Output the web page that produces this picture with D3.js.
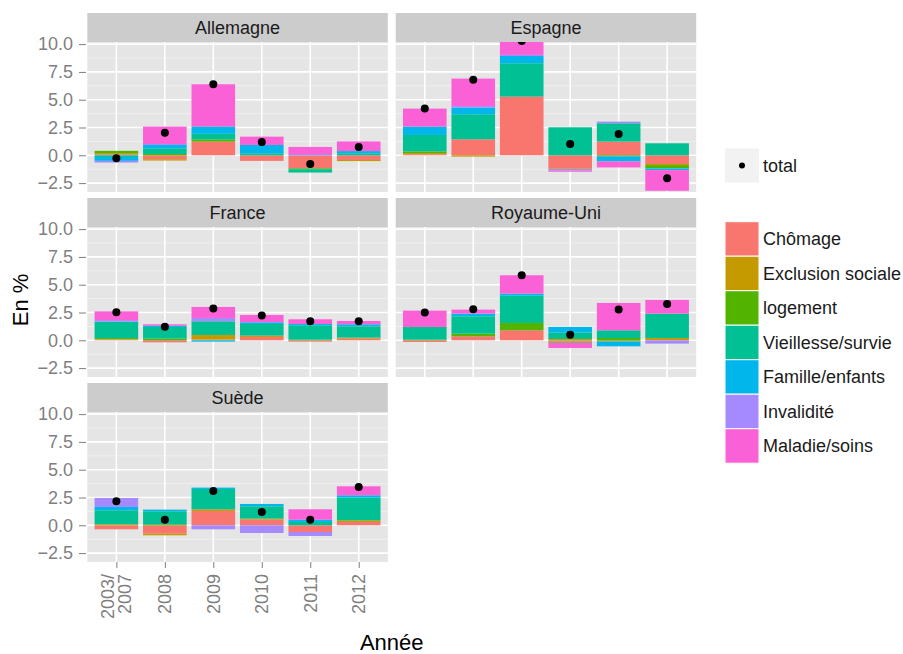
<!DOCTYPE html>
<html>
<head>
<meta charset="utf-8">
<script src="https://cdn.jsdelivr.net/npm/d3@7"></script>
<style>
  body { margin: 0; background: #ffffff; }
  text { font-family: "Liberation Sans", Arial, sans-serif; }
</style>
</head>
<body>
<script>
// facets, x categories and fill categories
const countries = ["Allemagne", "Espagne", "France", "Royaume-Uni", "Suède"];
const years = ["2003/2007", "2008", "2009", "2010", "2011", "2012"];
const yearLabels = [["2003/", "2007"], ["2008"], ["2009"], ["2010"], ["2011"], ["2012"]];
const categories = ["Chômage", "Exclusion sociale", "logement", "Vieillesse/survie",
  "Famille/enfants", "Invalidité", "Maladie/soins"];
const yTicks = [-2.5, 0, 2.5, 5, 7.5, 10];
const yMinor = [-1.25, 1.25, 3.75, 6.25, 8.75];

// contributions, one row per category, one value per year
const allemagne = [
  [0.10, -0.35, 1.23, -0.50, -1.17, -0.42],
  [0.10, -0.12, 0.00, 0.00, 0.00, -0.10],
  [0.20, 0.12, 0.20, 0.00, -0.08, 0.00],
  [-0.15, 0.51, 0.50, 0.18, -0.30, 0.18],
  [-0.35, 0.30, 0.66, 0.75, 0.00, 0.20],
  [-0.15, 0.09, 0.00, 0.00, 0.12, 0.00],
  [0.00, 1.56, 3.80, 0.75, 0.63, 0.87]
];
const espagne = [
  [0.10, 1.44, 5.28, -1.17, 1.23, -0.78],
  [0.10, -0.12, 0.00, -0.06, 0.00, -0.10],
  [0.15, 0.00, 0.00, 0.00, -0.10, -0.30],
  [1.48, 2.25, 3.00, 2.52, 1.65, 1.08],
  [0.75, 0.60, 0.65, 0.00, -0.45, -0.15],
  [0.00, 0.15, 0.10, -0.15, 0.15, 0.00],
  [1.62, 2.46, 1.25, -0.10, -0.54, -1.86]
];
const france = [
  [0.05, -0.18, 0.06, 0.30, -0.12, 0.15],
  [0.05, 0.00, 0.42, 0.12, 0.00, 0.09],
  [0.10, 0.15, 0.00, 0.00, 0.06, 0.00],
  [1.47, 1.05, 1.23, 1.05, 1.29, 1.02],
  [0.00, 0.12, -0.12, 0.15, 0.12, 0.18],
  [0.15, 0.00, 0.30, 0.00, 0.00, 0.00],
  [0.78, 0.12, 0.99, 0.66, 0.42, 0.30]
];
const royaumeUni = [
  [-0.15, 0.36, 0.90, -0.12, 0.00, 0.00],
  [0.00, 0.00, 0.00, 0.12, -0.10, 0.21],
  [0.06, 0.24, 0.66, -0.10, 0.21, 0.00],
  [1.14, 1.56, 2.46, 0.58, 0.69, 2.19],
  [0.00, 0.24, 0.18, 0.50, -0.44, 0.00],
  [0.00, 0.00, 0.00, 0.00, 0.00, -0.30],
  [1.47, 0.36, 1.65, -0.47, 2.46, 1.23]
];
const suede = [
  [-0.36, -0.75, 1.29, 0.51, -0.60, 0.30],
  [0.09, -0.15, 0.15, 0.09, 0.00, 0.15],
  [0.00, 0.09, 0.00, 0.00, 0.00, 0.00],
  [1.26, 1.17, 1.83, 1.11, 0.30, 2.04],
  [0.30, 0.15, 0.12, 0.21, 0.20, 0.21],
  [0.81, 0.00, -0.36, -0.69, -0.36, 0.00],
  [0.00, 0.00, 0.00, 0.00, 0.94, 0.81]
];

// total points
const totAllemagne = [-0.27, 2.02, 6.39, 1.20, -0.78, 0.75];
const totEspagne = [4.20, 6.80, 10.28, 1.02, 1.92, -2.07];
const totFrance = [2.52, 1.23, 2.85, 2.22, 1.71, 1.71];
const totRoyaumeUni = [2.49, 2.79, 5.85, 0.50, 2.76, 3.27];
const totSuede = [2.16, 0.51, 3.09, 1.20, 0.51, 3.45];

const values = [allemagne, espagne, france, royaumeUni, suede];
const totals = [totAllemagne, totEspagne, totFrance, totRoyaumeUni, totSuede];

const palette = ["#F8766D", "#C49A00", "#53B400", "#00C094", "#00B6EB", "#A58AFF", "#FB61D7"];

// layout of the facets
const width = 903, height = 654;
const colX = [87.3, 395.7], panelW = 300.5;
const rowY = [13, 198, 383], stripH = 29, panelH = 150;

const svg = d3.select("body")
  .append("svg")
  .attr("width", width)
  .attr("height", height)
  .attr("viewBox", `0 0 ${width} ${height}`);

const x = d3.scalePoint()
  .domain(years)
  .range([0, panelW])
  .padding(0.6);
const barW = x.step() * 0.9;

const y = d3.scaleLinear()
  .domain([-3.30, 10.19])
  .range([panelH, 0]);

const color = d3.scaleOrdinal().domain(categories).range(palette);

// stack positives upward and negatives downward
const stackBars = (mat) => {
  const out = [];
  years.forEach((yr, j) => {
    let pos = 0, neg = 0;
    categories.forEach((cat, i) => {
      const v = mat[i][j];
      if (v >= 0) { out.push({year: yr, cat: cat, y0: pos, y1: pos + v}); pos += v; }
      else { out.push({year: yr, cat: cat, y0: neg + v, y1: neg}); neg += v; }
    });
  });
  return out.filter(d => d.y1 - d.y0 > 0);
};

countries.forEach((country, k) => {
  const col = k % 2, row = Math.floor(k / 2);
  const g = svg.append("g")
    .attr("transform", `translate(${colX[col]},${rowY[row]})`);

  // strip
  g.append("rect")
    .attr("width", panelW).attr("height", stripH)
    .attr("fill", "#CCCCCC");
  g.append("text")
    .attr("x", panelW / 2).attr("y", stripH / 2)
    .attr("dy", "0.35em")
    .attr("text-anchor", "middle")
    .attr("font-size", 18)
    .attr("fill", "#1a1a1a")
    .text(country);

  const p = g.append("g").attr("transform", `translate(0,${stripH})`);
  p.append("clipPath").attr("id", "clip" + k)
    .append("rect").attr("width", panelW).attr("height", panelH);

  p.append("rect")
    .attr("width", panelW).attr("height", panelH)
    .attr("fill", "#E5E5E5");

  // grid
  p.selectAll(".minor").data(yMinor).join("line")
    .attr("x1", 0).attr("x2", panelW)
    .attr("y1", d => y(d)).attr("y2", d => y(d))
    .attr("stroke", "#F2F2F2").attr("stroke-width", 0.8);
  p.selectAll(".hmajor").data(yTicks).join("line")
    .attr("x1", 0).attr("x2", panelW)
    .attr("y1", d => y(d)).attr("y2", d => y(d))
    .attr("stroke", "#ffffff").attr("stroke-width", 1.6);
  p.selectAll(".vmajor").data(years).join("line")
    .attr("x1", d => x(d)).attr("x2", d => x(d))
    .attr("y1", 0).attr("y2", panelH)
    .attr("stroke", "#ffffff").attr("stroke-width", 1.6);

  const marks = p.append("g").attr("clip-path", `url(#clip${k})`);
  marks.selectAll("rect")
    .data(stackBars(values[k]))
    .join("rect")
      .attr("x", d => x(d.year) - barW / 2)
      .attr("width", barW)
      .attr("y", d => y(d.y1))
      .attr("height", d => y(d.y0) - y(d.y1))
      .attr("fill", d => color(d.cat));

  marks.selectAll("circle")
    .data(totals[k])
    .join("circle")
      .attr("cx", (d, j) => x(years[j]))
      .attr("cy", d => y(d))
      .attr("r", 4)
      .attr("fill", "#000000");

  // y axis on the left column
  if (col === 0) {
    const ax = p.append("g")
      .attr("transform", "translate(-1.3,0)")
      .call(d3.axisLeft(y).tickValues(yTicks).tickFormat(d3.format(".1f")).tickSize(7).tickPadding(6));
    ax.select(".domain").remove();
    ax.selectAll("line").attr("stroke", "#7F7F7F");
    ax.selectAll("text").attr("font-size", 18).attr("fill", "#7F7F7F")
      .attr("font-family", "Liberation Sans, Arial, sans-serif");
  }

  // x axis under the last facet
  if (k === countries.length - 1) {
    const ax = p.append("g")
      .attr("transform", `translate(0,${panelH})`)
      .call(d3.axisBottom(x).tickSize(6).tickFormat(""));
    ax.select(".domain").remove();
    ax.selectAll("line").attr("stroke", "#7F7F7F");

    p.selectAll(".xlab").data(yearLabels).join("text")
      .attr("transform", (d, j) => `translate(${x(years[j])},${panelH + 12}) rotate(-90)`)
      .attr("text-anchor", "end")
      .attr("font-size", 18)
      .attr("fill", "#7F7F7F")
      .each(function(d) {
        const t = d3.select(this);
        d.forEach((line, i) => {
          t.append("tspan")
            .attr("x", 0)
            .attr("y", (i - (d.length - 1) / 2) * 17.5)
            .attr("dy", "0.35em")
            .text(line);
        });
      });
  }
});

// axis titles
svg.append("text")
  .attr("text-anchor", "middle")
  .attr("x", (colX[0] + colX[1] + panelW) / 2)
  .attr("y", 650)
  .attr("font-size", 22)
  .text("Année");

svg.append("text")
  .attr("text-anchor", "middle")
  .attr("transform", "translate(28,300) rotate(-90)")
  .attr("font-size", 22)
  .text("En %");

// legend: total point
const legX = 725, keyS = 34;
svg.append("rect")
  .attr("x", legX).attr("y", 148.5)
  .attr("width", keyS).attr("height", keyS)
  .attr("fill", "#F2F2F2");
svg.append("circle")
  .attr("cx", legX + keyS / 2).attr("cy", 148.5 + keyS / 2)
  .attr("r", 3).attr("fill", "#000000");
svg.append("text")
  .attr("x", 763).attr("y", 148.5 + keyS / 2)
  .attr("dy", "0.35em")
  .attr("font-size", 18)
  .attr("fill", "#1a1a1a")
  .text("total");

// legend: fill categories
const leg = svg.append("g").attr("transform", "translate(0,221.7)");
leg.selectAll("rect").data(categories).join("rect")
  .attr("x", legX)
  .attr("y", (d, i) => i * 34.5)
  .attr("width", keyS).attr("height", 34.5)
  .attr("fill", d => color(d))
  .attr("stroke", "#ffffff").attr("stroke-width", 1);
leg.selectAll("text").data(categories).join("text")
  .attr("x", 763)
  .attr("y", (d, i) => i * 34.5 + 17.25)
  .attr("dy", "0.35em")
  .attr("font-size", 18)
  .attr("fill", "#1a1a1a")
  .text(d => d);
</script>
</body>
</html>
